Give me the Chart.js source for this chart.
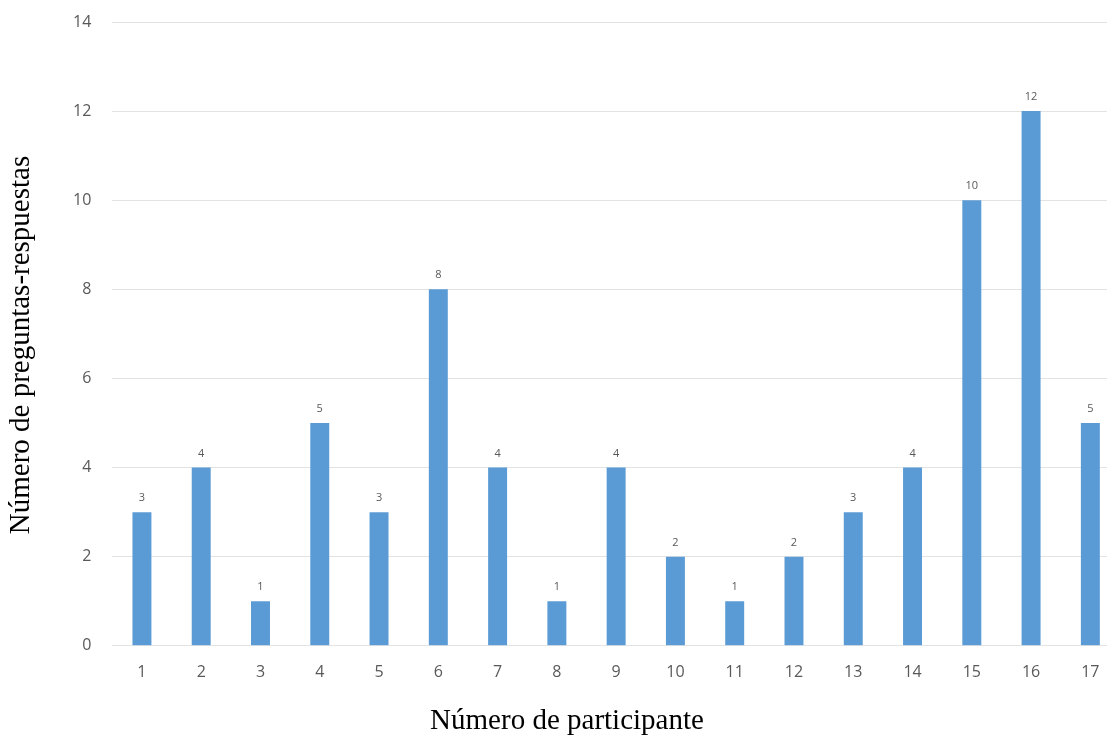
<!DOCTYPE html>
<html>
<head>
<meta charset="utf-8">
<script src="https://cdn.jsdelivr.net/npm/chart.js@4.4.0/dist/chart.umd.min.js"></script>
<style>
  html, body { margin: 0; padding: 0; background: #fff; overflow: hidden; }
  #wrap { width: 1121px; height: 736px; position: relative; }
</style>
</head>
<body>
<div id="wrap"><canvas id="c"></canvas></div>
<script>
// Participants and the number of question-answer exchanges for each one
const participantes = ['1','2','3','4','5','6','7','8','9','10','11','12','13','14','15','16','17'];
const preguntasRespuestas = [3, 4, 1, 5, 3, 8, 4, 1, 4, 2, 1, 2, 3, 4, 10, 12, 5];
const yTicks = [0, 2, 4, 6, 8, 10, 12, 14];

const tituloX = 'Número de participante';
const tituloY = 'Número de preguntas-respuestas';
const fuenteTitulo = '29px "Liberation Serif", serif';

// Writes each bar's value just above it
const valueLabels = {
  id: 'valueLabels',
  afterDatasetsDraw(chart) {
    const ctx = chart.ctx;
    const meta = chart.getDatasetMeta(0);
    const data = chart.data.datasets[0].data;
    ctx.save();
    ctx.font = '11px "Open Sans", sans-serif';
    ctx.fillStyle = '#595959';
    ctx.textAlign = 'center';
    ctx.textBaseline = 'alphabetic';
    meta.data.forEach((bar, i) => {
      ctx.fillText(String(data[i]), bar.x, bar.y - 11);
    });
    ctx.restore();
  }
};

// Axis titles, placed in the space the scales reserve for them
const axisTitles = {
  id: 'axisTitles',
  afterDraw(chart) {
    const ctx = chart.ctx;
    const x = chart.scales.x, y = chart.scales.y;
    ctx.save();
    ctx.font = fuenteTitulo;
    ctx.fillStyle = '#000';
    ctx.textAlign = 'center';
    ctx.textBaseline = 'middle';
    ctx.fillText(tituloX, 567, x.bottom - 15);
    ctx.translate(y.left + 14.5, 345);
    ctx.rotate(-Math.PI / 2);
    ctx.fillText(tituloY, 0, 0);
    ctx.restore();
  }
};

new Chart(document.getElementById('c'), {
  type: 'bar',
  data: {
    labels: participantes,
    datasets: [{
      data: preguntasRespuestas,
      backgroundColor: '#5b9bd5',
      borderWidth: 0,
      barPercentage: 0.4,
      categoryPercentage: 0.8
    }]
  },
  options: {
    responsive: true,
    maintainAspectRatio: false,
    animation: false,
    layout: { padding: { top: 22, right: 1, left: 7, bottom: 0 } },
    plugins: {
      legend: { display: false },
      tooltip: { enabled: false }
    },
    scales: {
      x: {
        grid: { display: false, drawTicks: false },
        border: { display: false },
        ticks: {
          color: '#595959',
          font: { family: '"Open Sans", sans-serif', size: 16 },
          padding: 17
        },
        title: {
          display: true,
          text: tituloX,
          color: 'rgba(0,0,0,0)',
          font: { family: '"Liberation Serif", serif', size: 29, lineHeight: 1 },
          padding: { top: 8, bottom: 0 }
        }
      },
      y: {
        min: 0,
        max: 14,
        afterBuildTicks(axis) { axis.ticks = yTicks.map(v => ({ value: v })); },
        // the tick padding is only meant as horizontal space next to the labels
        afterFit(axis) { axis.paddingTop = 0; axis.paddingBottom = 0; },
        grid: { color: '#e3e3e3', drawTicks: false, lineWidth: 1 },
        border: { display: false },
        ticks: {
          color: '#595959',
          font: { family: '"Open Sans", sans-serif', size: 16 },
          padding: 21
        },
        title: {
          display: true,
          text: tituloY,
          color: 'rgba(0,0,0,0)',
          font: { family: '"Liberation Serif", serif', size: 29, lineHeight: 1 },
          padding: { top: 0, bottom: 16 }
        }
      }
    }
  },
  plugins: [valueLabels, axisTitles]
});
</script>
</body>
</html>
